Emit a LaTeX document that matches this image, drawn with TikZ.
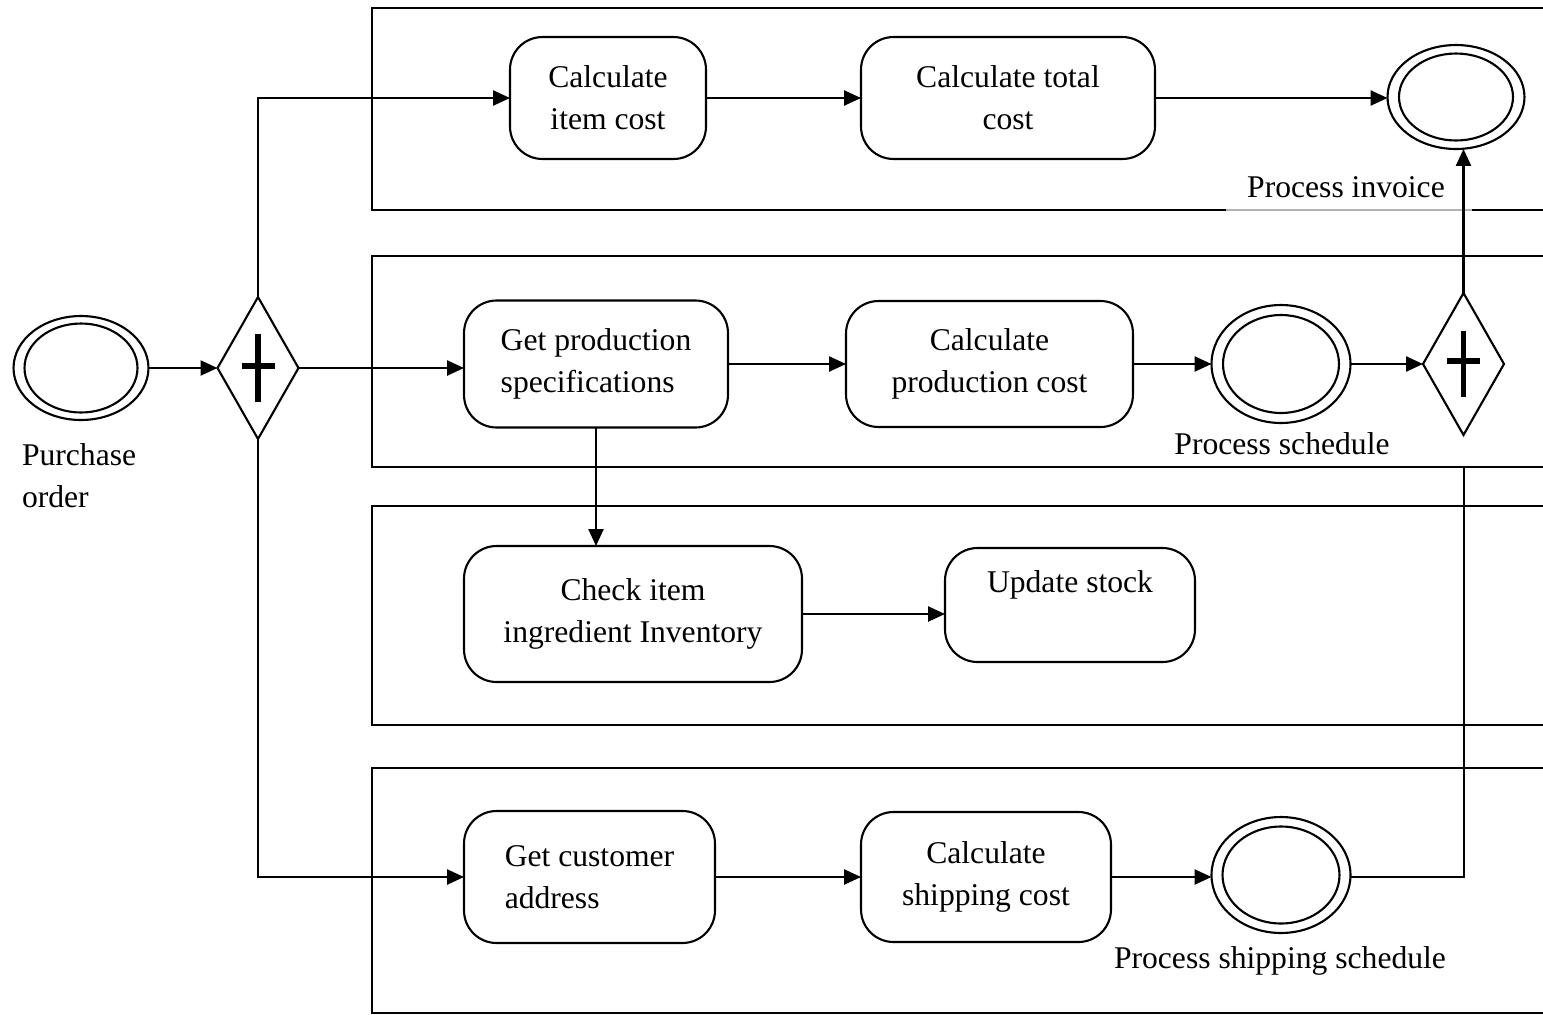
\documentclass[tikz,border=0pt]{standalone}
\usepackage{fontspec}
\setmainfont{Liberation Serif}
\usetikzlibrary{shapes.geometric,arrows.meta,calc}
\begin{document}
\begin{tikzpicture}[x=0.02cm,y=-0.02cm,
  font=\fontsize{18pt}{24pt}\selectfont,
  every node/.style={inner sep=0pt,outer sep=0pt},
  task/.style={draw,line width=1.2pt,rounded corners=0.65cm,align=center},
  event/.style={draw,ellipse,line width=1.2pt},
  gate/.style={draw,diamond,line width=1.2pt,minimum width=1.62cm,minimum height=2.84cm},
  flow/.style={line width=1.4pt,-{Triangle[length=0.34cm,width=0.3cm]}},
  wire/.style={line width=1.4pt},
  lane/.style={line width=1.2pt},
  bar/.style={line width=3pt},
  caption/.style={align=left}
]
\useasboundingbox (0,0) rectangle (1543,1015);

% ---------- swim lanes (open to the right) ----------
\draw[lane] (1560,8) -- (372,8) -- (372,210) -- (1226,210);
\draw[gray!60,line width=0.6pt] (1226,210) -- (1472,210);
\draw[lane] (1472,210) -- (1560,210);
\draw[lane] (1560,256) -- (372,256) -- (372,467) -- (1560,467);
\draw[lane] (1560,506) -- (372,506) -- (372,725) -- (1560,725);
\draw[lane] (1560,768) -- (372,768) -- (372,1013) -- (1560,1013);

% ---------- start event and split gateway ----------
\node[event,minimum width=2.7cm,minimum height=2.08cm] (start) at (81,368) {};
\node[event,minimum width=2.26cm,minimum height=1.78cm] (start-in) at (81,368) {};
\node[caption,anchor=west] (start-lbl) at (22,476) {Purchase\\order};

\node[gate] (gw1) at (258,368) {};
\draw[bar] ($(gw1.center)+(0,-34)$) -- ($(gw1.center)+(0,34)$);
\draw[bar] ($(gw1.center)+(-16.5,-2)$) -- ($(gw1.center)+(16.5,-2)$);

% ---------- lane 1: invoice ----------
\node[task,minimum width=3.92cm,minimum height=2.44cm] (t1) at (608,98) {Calculate\\item cost};
\node[task,minimum width=5.88cm,minimum height=2.44cm] (t2) at (1008,98) {Calculate total\\cost};
\node[event,minimum width=2.74cm,minimum height=2.08cm] (inv) at (1456,97) {};
\node[event,minimum width=2.28cm,minimum height=1.74cm] (inv-in) at (1456,97) {};
\node (inv-lbl) at (1346,187) {Process invoice};

% ---------- lane 2: production ----------
\node[task,align=left,minimum width=5.28cm,minimum height=2.54cm] (t3) at (596,364) {Get production\\specifications};
\node[task,minimum width=5.74cm,minimum height=2.52cm] (t4) at (989.5,364) {Calculate\\production cost};
\node[event,minimum width=2.78cm,minimum height=2.36cm] (sched) at (1281,364) {};
\node[event,minimum width=2.32cm,minimum height=1.96cm] (sched-in) at (1281,364) {};
\node (sched-lbl) at (1282,444) {Process schedule};

\node[gate] (gw2) at (1463.5,364) {};
\draw[bar] ($(gw2.center)+(0,-33)$) -- ($(gw2.center)+(0,33)$);
\draw[bar] ($(gw2.center)+(-16.5,-3)$) -- ($(gw2.center)+(16.5,-3)$);

% ---------- lane 3: inventory ----------
\node[task,minimum width=6.76cm,minimum height=2.72cm] (t5) at (633,614) {Check item\\ingredient Inventory};
\node[task,minimum width=5.0cm,minimum height=2.28cm] (t6) at (1070,605) {Update stock\\[-4pt]\strut};

% ---------- lane 4: shipping ----------
\node[task,align=left,minimum width=5.02cm,minimum height=2.64cm] (t7) at (589.5,877) {Get customer\\address};
\node[task,minimum width=5.0cm,minimum height=2.6cm] (t8) at (986,877) {Calculate\\shipping cost};
\node[event,minimum width=2.78cm,minimum height=2.32cm] (ship) at (1281,875) {};
\node[event,minimum width=2.34cm,minimum height=1.94cm] (ship-in) at (1281,875) {};
\node (ship-lbl) at (1280,961) {Process shipping schedule};

\coordinate (join) at (1464,467);

% ---------- sequence flows ----------
\draw[flow] (start) -- (gw1.west);
\draw[flow] (gw1.north) |- (t1.west);
\draw[flow] (gw1.east) -- (gw1.east -| t3.west);
\draw[flow] (gw1.south) |- (t7.west);

\draw[flow] (t1) -- (t2);
\draw[flow] (t2.east) -- (t2.east -| inv.west);

\draw[flow] (t3) -- (t4);
\draw[flow] (t4) -- (sched);
\draw[flow] (sched) -- (gw2.west);
\draw[flow] (gw2.north) -- (gw2.north |- inv.south);

\draw[flow] (t3.south) -- (t3.south |- t5.north);
\draw[flow] (t5.east) -- (t5.east -| t6.west);

\draw[flow] (t7) -- (t7 -| t8.west);
\draw[flow] (t8.east) -- (t8.east -| ship.west);
\draw[wire] (t8.east -| ship.east) -| (join);
\end{tikzpicture}
\end{document}
